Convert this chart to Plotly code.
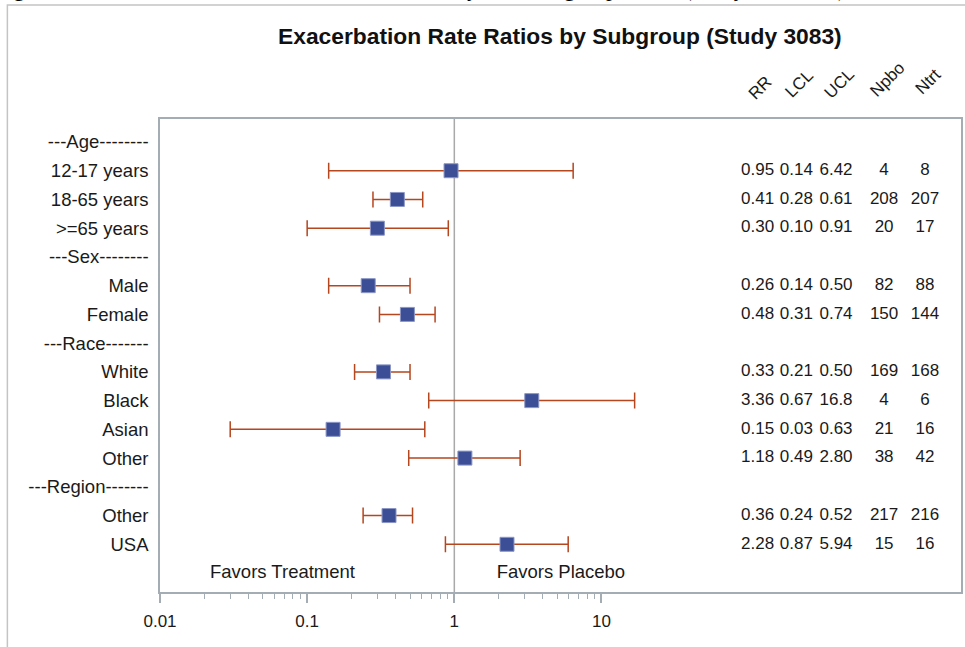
import math
import plotly.graph_objects as go

# Row labels, top to bottom (group headers included)
row_labels = [
    "---Age--------", "12-17 years", "18-65 years", ">=65 years",
    "---Sex--------", "Male", "Female",
    "---Race-------", "White", "Black", "Asian", "Other",
    "---Region-------", "Other", "USA",
]
# Subgroup rows that carry an estimate (indices into row_labels)
data_rows = [1, 2, 3, 5, 6, 8, 9, 10, 11, 13, 14]

rr = [0.95, 0.41, 0.30, 0.26, 0.48, 0.33, 3.36, 0.15, 1.18, 0.36, 2.28]
lcl = [0.14, 0.28, 0.10, 0.14, 0.31, 0.21, 0.67, 0.03, 0.49, 0.24, 0.87]
ucl = [6.42, 0.61, 0.91, 0.50, 0.74, 0.50, 16.8, 0.63, 2.80, 0.52, 5.94]
n_pbo = [4, 208, 20, 82, 150, 169, 4, 21, 38, 217, 15]
n_trt = [8, 207, 17, 88, 144, 168, 6, 16, 42, 216, 16]

col_headers = ["RR", "LCL", "UCL", "Npbo", "Ntrt"]
x_ticks = [0.01, 0.1, 1, 10]
x_tick_text = ["0.01", "0.1", "1", "10"]

# ---- layout geometry / styles ----
W, H = 965, 647
L, R, T, B = 160, 2, 119, 55
plot_w = W - L - R
plot_h = H - T - B
favors_row = len(row_labels)
y_range = [15.66, -0.8]
x_log_range = [-2, 3.443]
col_pos = [0.746, 0.7945, 0.844, 0.904, 0.955]   # table column centres (x2 units)
head_y = [1.066, 1.074, 1.076, 1.084, 1.080]

FONT = "Liberation Sans, Arial, sans-serif"
SERIF = "Liberation Serif, Times New Roman, serif"
TXT = "#1a1a1a"
FRAME = "#a4acb4"
BLUE = "#3c4e95"
RUST = "#b5461e"


def fmt(v):
    return f"{v:.1f}" if v >= 10 else f"{v:.2f}"


def px_x(p):
    return (p - L) / plot_w


def px_y(p):
    return (H - B - p) / plot_h


fig = go.Figure()

# confidence intervals + point estimates
fig.add_trace(go.Scatter(
    x=rr, y=data_rows, mode="markers",
    marker=dict(symbol="square", size=14, color=BLUE,
                line=dict(color="#8c97c6", width=1)),
    error_x=dict(type="data", symmetric=False,
                 array=[u - r for u, r in zip(ucl, rr)],
                 arrayminus=[r - l for r, l in zip(rr, lcl)],
                 color=RUST, thickness=1.5, width=8),
    hoverinfo="skip", showlegend=False,
))

# "Favors" captions inside the plot
fig.add_trace(go.Scatter(
    x=[0.068, 5.3], y=[favors_row, favors_row], mode="text",
    text=["Favors Treatment", "Favors Placebo"],
    textfont=dict(family=FONT, size=18.5, color=TXT),
    textposition="middle center", hoverinfo="skip", showlegend=False,
))

# statistics table on a secondary x axis
columns = [
    [fmt(v) for v in rr],
    [fmt(v) for v in lcl],
    [fmt(v) for v in ucl],
    [str(v) for v in n_pbo],
    [str(v) for v in n_trt],
]
for cx, vals in zip(col_pos, columns):
    fig.add_trace(go.Scatter(
        x=[cx] * len(vals), y=data_rows, mode="text", text=vals,
        textfont=dict(family=FONT, size=17, color=TXT),
        textposition="middle center", xaxis="x2",
        hoverinfo="skip", showlegend=False,
    ))

annotations = []
for cx, hy, h in zip(col_pos, head_y, col_headers):
    annotations.append(dict(
        x=cx + 0.004, y=hy, xref="x2", yref="paper", text=h, textangle=-45,
        showarrow=False, xanchor="center", yanchor="middle",
        font=dict(family=FONT, size=17, color=TXT),
    ))

annotations.append(dict(
    x=px_x(561), y=px_y(36), xref="paper", yref="paper",
    text="<b>Exacerbation Rate Ratios by Subgroup (Study 3083)</b>",
    showarrow=False, xanchor="center", yanchor="middle",
    font=dict(family=FONT, size=22.8, color="#111111"),
))

# document caption running above the figure frame
caption_parts = [
    ("Figure 9:", -8, "left"),
    ("Exacerbation Rate Ratios by", 482, "right"),
    ("Subgroup", 527, "left"),
    ("(Study", 683, "left"),
    ("3083)", 792, "left"),
]
for txt, xp, anchor in caption_parts:
    annotations.append(dict(
        x=px_x(xp), y=px_y(-12), xref="paper", yref="paper", text=txt,
        showarrow=False, xanchor=anchor, yanchor="middle",
        font=dict(family=SERIF, size=23, color="#000000"),
    ))

shapes = [
    # reference line at RR = 1
    dict(type="line", xref="x", yref="paper", x0=1, x1=1, y0=0, y1=1,
         line=dict(color="#a9a9a9", width=1.5), layer="below"),
    # outer frame of the figure
    dict(type="rect", xref="paper", yref="paper",
         x0=px_x(7), x1=px_x(W + 20), y0=px_y(H + 20), y1=px_y(5),
         line=dict(color="#c4c4c4", width=1.5), layer="below"),
]

minor_vals = [m * d for d in (0.01, 0.1, 1) for m in range(2, 10)]

fig.update_layout(
    width=W, height=H,
    margin=dict(l=L, r=R, t=T, b=B, pad=0),
    paper_bgcolor="white", plot_bgcolor="white",
    font=dict(family=FONT, color=TXT),
    xaxis=dict(
        type="log", range=x_log_range,
        tickmode="array", tickvals=x_ticks, ticktext=x_tick_text,
        ticks="outside", ticklen=9, tickcolor=FRAME, tickwidth=1.5,
        ticklabelstandoff=4,
        tickfont=dict(family=FONT, size=17, color=TXT),
        minor=dict(tickmode="array", tickvals=minor_vals, ticks="outside",
                   ticklen=5, tickcolor=FRAME, tickwidth=1),
        showgrid=False, zeroline=False,
        showline=True, linecolor=FRAME, linewidth=1.5, mirror=True,
        fixedrange=True,
    ),
    xaxis2=dict(
        overlaying="x", range=[0, 1], visible=False, fixedrange=True,
    ),
    yaxis=dict(
        range=y_range, tickmode="array",
        tickvals=list(range(len(row_labels))), ticktext=row_labels,
        ticks="", ticklabelstandoff=6,
        tickfont=dict(family=FONT, size=18.5, color=TXT),
        showgrid=False, zeroline=False,
        showline=True, linecolor=FRAME, linewidth=1.5, mirror=True,
        fixedrange=True,
    ),
    annotations=annotations,
    shapes=shapes,
    showlegend=False,
)

fig.write_html("out.html")
